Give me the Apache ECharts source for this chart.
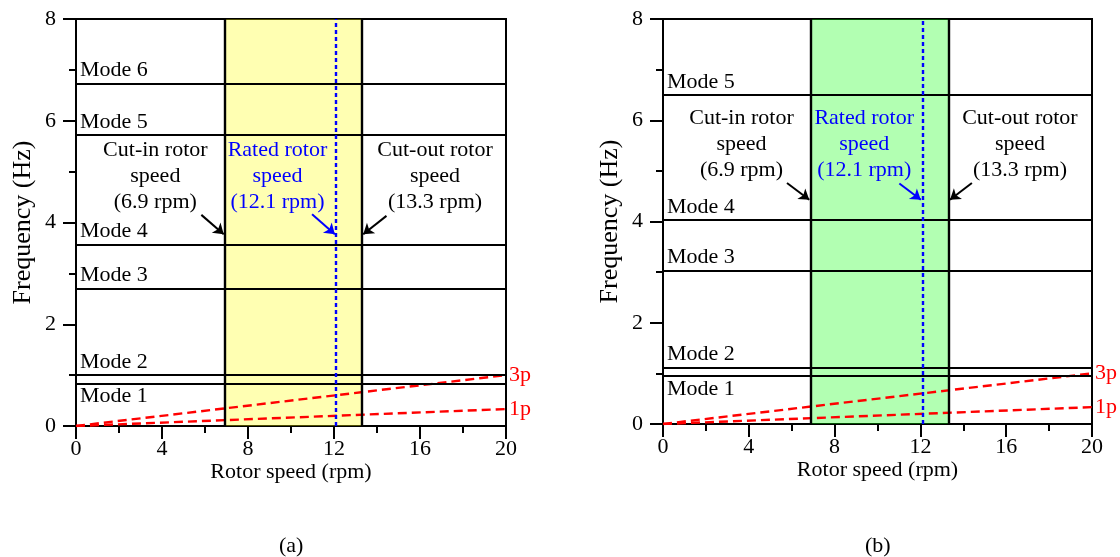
<!DOCTYPE html>
<html>
<head>
<meta charset="utf-8">
<script src="https://cdn.jsdelivr.net/npm/echarts@6/dist/echarts.min.js"></script>
<style>
html,body{margin:0;padding:0;background:#fff;}
#chart{width:1120px;height:557px;}
</style>
</head>
<body>
<div id="chart"></div>
<script>
// ---------- data ----------
const xTicksMax = 20;
const cutIn = 6.9, rated = 12.1, cutOut = 13.3;

const modeNamesA = ['Mode 1', 'Mode 2', 'Mode 3', 'Mode 4', 'Mode 5', 'Mode 6'];
const modeFreqA  = [0.845, 1.0, 2.70, 3.57, 5.72, 6.73];
const modeNamesB = ['Mode 1', 'Mode 2', 'Mode 3', 'Mode 4', 'Mode 5'];
const modeFreqB  = [0.95, 1.12, 3.03, 4.03, 6.5];

const p1Line = [[0, 0], [20, 0.333]];
const p3Line = [[0, 0], [20, 1.0]];

const annoTexts = ['Cut-in rotor\nspeed\n(6.9 rpm)', 'Rated rotor\nspeed\n(12.1 rpm)', 'Cut-out rotor\nspeed\n(13.3 rpm)'];
const annoPosA = [[3.69, 4.91], [9.37, 4.91], [16.7, 4.91]];
const annoPosB = [[3.66, 5.52], [9.38, 5.52], [16.64, 5.52]];
const arrowsA = [[[5.83, 4.15], [6.87, 3.77]], [[10.98, 4.16], [12.04, 3.77]], [[14.44, 4.13], [13.36, 3.77]]];
const arrowsB = [[[5.78, 4.76], [6.82, 4.43]], [[11.02, 4.75], [12.02, 4.43]], [[14.4, 4.76], [13.38, 4.43]]];
const annoColors = ['#000000', '#0000ff', '#000000'];

// ---------- chart ----------
const FONT = '"Liberation Serif", "Times New Roman", serif';
const chart = echarts.init(document.getElementById('chart'), null, {renderer: 'canvas'});

function xAxisCfg(gi) {
  return {
    gridIndex: gi, type: 'value', min: 0, max: xTicksMax, interval: 4,
    name: 'Rotor speed (rpm)', nameLocation: 'middle', nameGap: 35, nameMoveOverlap: false,
    nameTextStyle: {fontFamily: FONT, fontSize: 22, color: '#000'},
    axisLine: {lineStyle: {color: '#000', width: 2}},
    axisTick: {length: 13, lineStyle: {color: '#000', width: 2}},
    minorTick: {show: true, splitNumber: 2, length: 7, lineStyle: {color: '#000', width: 2}},
    splitLine: {show: false},
    axisLabel: {fontFamily: FONT, fontSize: 22, color: '#000', margin: 12}
  };
}
function yAxisCfg(gi) {
  return {
    gridIndex: gi, type: 'value', min: 0, max: 8, interval: 2,
    name: 'Frequency (Hz)', nameLocation: 'middle', nameGap: 40, nameMoveOverlap: false,
    nameTextStyle: {fontFamily: FONT, fontSize: 26, color: '#000'},
    axisLine: {lineStyle: {color: '#000', width: 2}},
    axisTick: {length: 13, lineStyle: {color: '#000', width: 2}},
    minorTick: {show: true, splitNumber: 2, length: 7, lineStyle: {color: '#000', width: 2}},
    splitLine: {show: false},
    axisLabel: {fontFamily: FONT, fontSize: 22, color: '#000', margin: 20}
  };
}

function panelSeries(gi, modeNames, modeFreq, annoPos, arrows, fillColor) {
  const s = [];
  // mode lines
  s.push({
    type: 'line', xAxisIndex: gi, yAxisIndex: gi, data: [], z: 2,
    markLine: {
      silent: true, symbol: ['none', 'none'], animation: false,
      lineStyle: {color: '#000', width: 2, type: 'solid', opacity: 1},
      data: modeFreq.map((v, i) => ({
        yAxis: v,
        label: {
          show: true, formatter: modeNames[i],
          position: i === 0 ? 'insideStartBottom' : 'insideStartTop',
          distance: [4, 2],
          fontFamily: FONT, fontSize: 22, color: '#000'
        }
      }))
    }
  });
  // 1p and 3p
  [[p3Line, '3p'], [p1Line, '1p']].forEach(([d, name]) => {
    s.push({
      type: 'line', xAxisIndex: gi, yAxisIndex: gi, data: d, z: 2,
      showSymbol: false, symbol: 'none', animation: false,
      lineStyle: {color: '#ff0000', width: 2.4, type: [9, 5]},
      endLabel: {show: true, formatter: name, color: '#ff0000', fontFamily: FONT, fontSize: 22, distance: 3}
    });
  });
  // shaded operating region (drawn on top, semi-transparent)
  s.push({
    type: 'line', xAxisIndex: gi, yAxisIndex: gi, data: [], z: 3,
    markArea: {
      silent: true, animation: false,
      itemStyle: {color: fillColor, opacity: 0.3},
      data: [[{xAxis: cutIn}, {xAxis: cutOut}]]
    }
  });
  // cut-in / cut-out lines and rated dotted line
  s.push({
    type: 'line', xAxisIndex: gi, yAxisIndex: gi, data: [], z: 4,
    markLine: {
      silent: true, symbol: ['none', 'none'], animation: false, label: {show: false},
      data: [
        {xAxis: cutIn, lineStyle: {color: '#000', width: 2.4, type: 'solid', opacity: 1}},
        {xAxis: cutOut, lineStyle: {color: '#000', width: 2.4, type: 'solid', opacity: 1}},
        {xAxis: rated, lineStyle: {color: '#0000ff', width: 2.4, type: [4, 3], opacity: 1}}
      ]
    }
  });
  // annotation texts
  s.push({
    type: 'scatter', xAxisIndex: gi, yAxisIndex: gi, z: 5, symbolSize: 0, animation: false,
    silent: true, itemStyle: {opacity: 1},
    data: annoPos.map((p, i) => ({
      value: p,
      label: {
        show: true, position: 'inside', formatter: annoTexts[i],
        fontFamily: FONT, fontSize: 22, lineHeight: 26, color: annoColors[i], align: 'center', opacity: 1
      }
    }))
  });
  // arrows
  s.push({
    type: 'lines', coordinateSystem: 'cartesian2d', xAxisIndex: gi, yAxisIndex: gi, z: 5,
    symbol: ['none', 'arrow'], symbolSize: 10, animation: false, silent: true,
    lineStyle: {opacity: 1, width: 2},
    data: arrows.map((a, i) => ({coords: a, lineStyle: {color: annoColors[i], width: 2, opacity: 1}}))
  });
  return s;
}

const option = {
  backgroundColor: '#fff',
  animation: false,
  grid: [
    {left: 76, top: 19, width: 430, height: 407, show: true, borderColor: '#000', borderWidth: 2, backgroundColor: 'transparent'},
    {left: 663, top: 19, width: 429, height: 405, show: true, borderColor: '#000', borderWidth: 2, backgroundColor: 'transparent'}
  ],
  xAxis: [xAxisCfg(0), xAxisCfg(1)],
  yAxis: [yAxisCfg(0), yAxisCfg(1)],
  graphic: [
    {type: 'text', left: 279, top: 535, style: {text: '(a)', font: '22px ' + FONT, fill: '#000'}},
    {type: 'text', left: 865, top: 535, style: {text: '(b)', font: '22px ' + FONT, fill: '#000'}}
  ],
  series: [].concat(
    panelSeries(0, modeNamesA, modeFreqA, annoPosA, arrowsA, '#ffff00'),
    panelSeries(1, modeNamesB, modeFreqB, annoPosB, arrowsB, '#00ff00')
  )
};
chart.setOption(option);
</script>
</body>
</html>
